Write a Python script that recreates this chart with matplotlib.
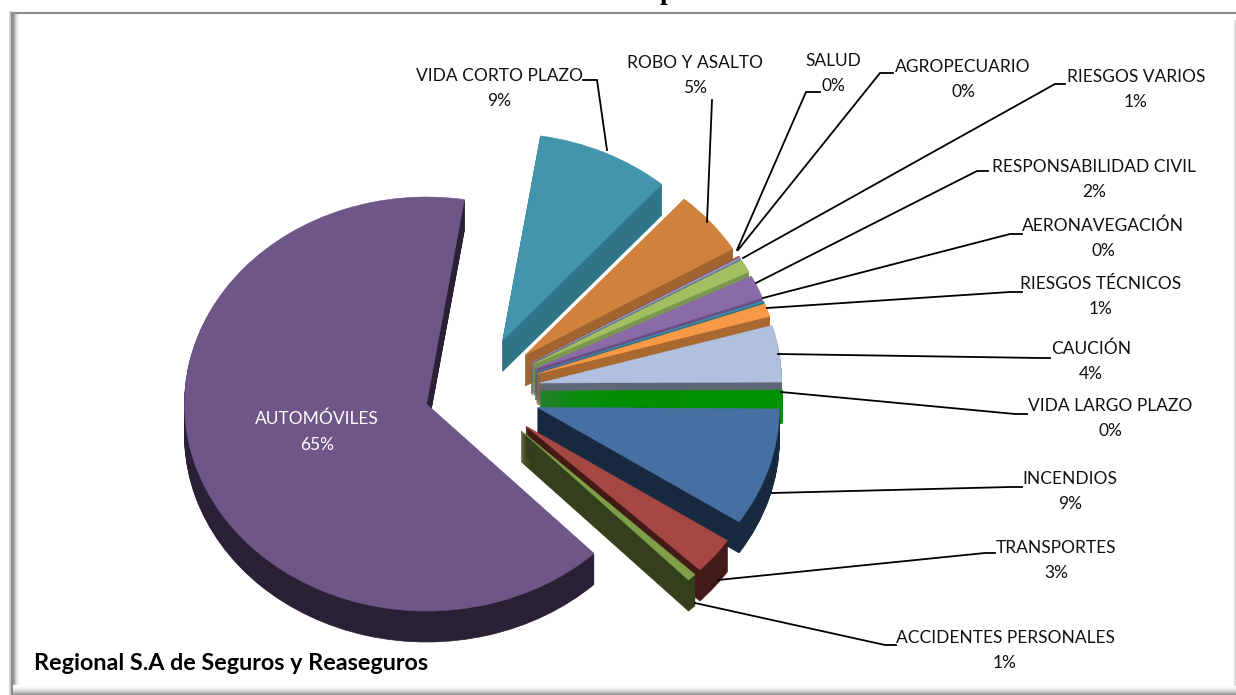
import numpy as np
import matplotlib
matplotlib.use('Agg')
import matplotlib.pyplot as plt
from matplotlib.colors import LinearSegmentedColormap

plt.rcParams['font.family'] = ['Lato', 'DejaVu Sans']

ramos = ['VIDA CORTO PLAZO', 'ROBO Y ASALTO', 'SALUD', 'AGROPECUARIO', 'RIESGOS VARIOS',
         'RESPONSABILIDAD CIVIL', 'AERONAVEGACIÓN', 'RIESGOS TÉCNICOS', 'CAUCIÓN',
         'VIDA LARGO PLAZO', 'INCENDIOS', 'TRANSPORTES', 'ACCIDENTES PERSONALES', 'AUTOMÓVILES']
primas = [8.9, 5.0, 0.1, 0.1, 1.0, 1.8, 0.1, 1.0, 4.4, 0.2, 9.2, 2.9, 0.6, 64.6]

top_colors = ['#4395AE', '#D0823D', '#A5504C', '#8DA0C0', '#A2C060', '#8A6BA8', '#3F8FA8',
              '#F79A45', '#B0C0DE', '#009000', '#4670A2', '#A54844', '#7F9F48', '#6F5688']
side_colors = ['#2F7587', '#A0642E', '#7A3A38', '#6A7890', '#7A9650', '#6A4F85', '#2F6F85',
               '#A9682F', '#5F6675', '#009000', '#17293F', '#431A18', '#34401C', '#2A2036']

W, H = 1236, 695
CX, CY = 475, 391     # pie centre in pixels
RX, RY = 242, 207     # squashed radius
DEPTH = 31
START = 81
explode = [0.27] * 13 + [0.21]

# label centre x, name y
label_pos = [(499, 76), (695, 63), (833, 61), (963, 67), (1136, 77), (1094, 167), (1103, 226),
             (1101, 284), (1091, 349), (1110, 406), (1070, 479), (1056, 548), (1005, 638)]
leaders = [[(607, 150), (597, 80), (583, 80)],
           [(707, 222), (712, 100)],
           [(737, 250), (806, 92), (820, 92)],
           [(738, 250), (880, 73), (893, 73)],
           [(743, 258), (1055, 84), (1065, 84)],
           [(756, 283), (977, 171), (988, 171)],
           [(763, 298), (1010, 234), (1022, 234)],
           [(767, 308), (1010, 292), (1022, 292)],
           [(778, 354), (1040, 358), (1050, 358)],
           [(781, 392), (1015, 414), (1027, 414)],
           [(772, 493), (1010, 487), (1022, 487)],
           [(718, 580), (985, 553), (995, 553)],
           [(695, 603), (885, 645), (896, 645)]]

fig = plt.figure(figsize=(W / 100, H / 100), dpi=100)

# pie axes: unit circle is squashed to RX x RY pixels
ax = fig.add_axes([0, 0, 1, 1])


def draw_layer(colors, drop, lw):
    wedges, _ = ax.pie(primas, explode=explode, colors=colors, startangle=START, counterclock=False,
                       center=(0, -drop / RY), radius=1, normalize=True, frame=False)
    # thin outline in the slice colour so the very narrow slices stay solid at the apex
    for w in wedges:
        w.set_edgecolor(w.get_facecolor())
        w.set_linewidth(lw)
        w.set_joinstyle('bevel')


for d in range(DEPTH, 0, -1):
    draw_layer(side_colors, d, 0.5)
draw_layer(top_colors, 0, 0.4)

ax.set_aspect('auto')
ax.set_xlim(-CX / RX, (W - CX) / RX)
ax.set_ylim((CY - H) / RY, CY / RY)
ax.axis('off')

# overlay in pixel coordinates for frame, leaders and text
ov = fig.add_axes([0, 0, 1, 1])
ov.axis('off')
ov.patch.set_alpha(0)

fade = LinearSegmentedColormap.from_list('fade', [(0.55, 0.55, 0.55, 1), (0.85, 0.85, 0.85, 0.7), (1, 1, 1, 0)])
grad = np.linspace(0, 1, 64)
ov.imshow(grad[None, :], extent=(13, 21, 685, 14), cmap=fade, aspect='auto', zorder=1)
ov.imshow(grad[::-1, None], extent=(12, W, 695, 685), cmap=fade, aspect='auto', zorder=1)
ov.imshow(grad[None, ::-1], extent=(W - 4, W, 686, 20), cmap=fade, aspect='auto', alpha=0.5, zorder=1)
ov.set_xlim(0, W)
ov.set_ylim(H, 0)
ov.plot([9.5, 9.5], [12, H], color='#CFCFCF', lw=2, zorder=2)
ov.plot([W, 11.5, 11.5], [12.5, 12.5, H], color='#8C8C8C', lw=1.5, zorder=2)

for name, val, pos, path in zip(ramos, primas, label_pos, leaders):
    xs, ys = zip(*path)
    ov.plot(xs, ys, color='black', lw=1.3, zorder=3, solid_joinstyle='miter')
    ov.text(pos[0], pos[1], name, ha='center', va='center', fontsize=12.5, color='#111111', zorder=4)
    ov.text(pos[0], pos[1] + 25, f'{round(val)}%', ha='center', va='center', fontsize=12.5, color='#111111', zorder=4)

ov.text(317, 419, ramos[-1], ha='center', va='center', fontsize=12.5, color='white', zorder=4)
ov.text(317, 445, f'{round(primas[-1])}%', ha='center', va='center', fontsize=12.5, color='white', zorder=4)
ov.text(34, 664, 'Regional S.A de Seguros y Reaseguros', ha='left', va='center', fontsize=16.8,
        fontweight='bold', color='black', zorder=4)
# only the descender of the cut-off title is left on the page
ov.text(667, -1, 'p', ha='center', va='baseline', fontsize=20, fontweight='bold',
        family='Liberation Serif', color='black', zorder=4)

fig.savefig('out.png', dpi=100)
